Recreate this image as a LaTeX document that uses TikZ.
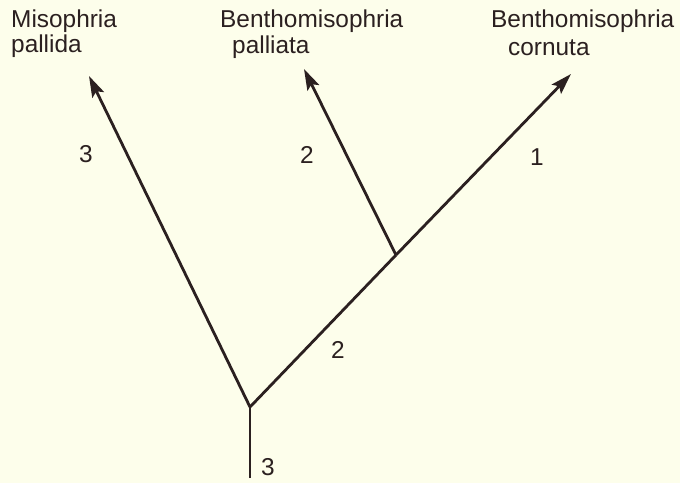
\documentclass[tikz,border=0pt]{standalone}
\usepackage{fontspec}
\setmainfont{Liberation Sans}
\usetikzlibrary{arrows.meta}
\definecolor{bg}{HTML}{FDFEEB}
\definecolor{ink}{HTML}{2B2020}
\begin{document}
\begin{tikzpicture}[x=1pt,y=-1pt,
  branch/.style={draw=ink,line width=2.8pt},
  tip/.style={branch,-{Stealth[length=21pt,width=13pt,inset=4pt]}},
  lbl/.style={font=\fontsize{24.4}{26}\selectfont,text=ink,inner sep=0pt,anchor=base west},
  num/.style={font=\fontsize{24.4}{26}\selectfont,text=ink,inner sep=0pt}]
\fill[bg] (0,0) rectangle (680,483);
\useasboundingbox (0,0) rectangle (680,483);
% skeleton
\coordinate (root) at (250,478);
\coordinate (fork) at (250,407);
\coordinate (mid) at (396,255);
\coordinate (tipA) at (89,76);
\coordinate (tipB) at (304,69);
\coordinate (tipC) at (571,74);
\draw[branch] (root) -- (fork);
\draw[tip] (fork) -- (tipA);
\draw[branch] (fork) -- (mid);
\draw[tip] (mid) -- (tipC);
\draw[tip] (mid) -- (tipB);
% labels
\node[lbl] (a1) at (11,27) {Misophria};
\node[lbl] (a2) at (11,52) {pallida};
\node[lbl] (b1) at (220,27) {Benthomisophria};
\node[lbl] (b2) at (232,53) {palliata};
\node[lbl] (c1) at (491,27) {Benthomisophria};
\node[lbl] (c2) at (508,55) {cornuta};
% numbers
\node[num] (n1) at (86,154) {3};
\node[num] (n2) at (307,155) {2};
\node[num] (n3) at (537,157) {1};
\node[num] (n4) at (338,350) {2};
\node[num] (n5) at (268,467) {3};
\end{tikzpicture}
\end{document}
